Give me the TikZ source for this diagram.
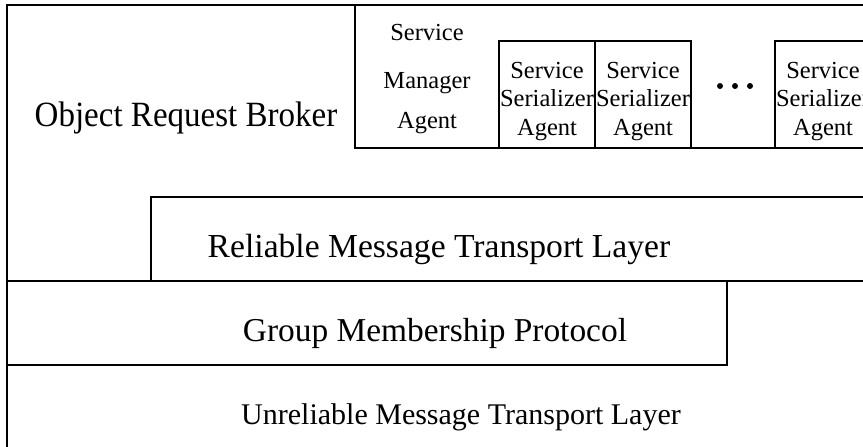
\documentclass[tikz,border=0pt]{standalone}
\usepackage{fontspec}
\setmainfont{Liberation Serif}
\begin{document}
\begin{tikzpicture}[x=1pt,y=-1pt,
  frame/.style={line width=1.6pt,black},
  layertext/.style={anchor=base,inner sep=0pt},
  agenttext/.style={anchor=base,inner sep=0pt,font=\fontsize{24.5}{28}\selectfont},
  dot/.style={circle,fill=black,inner sep=0pt,minimum size=6pt}]
\useasboundingbox (0,0) rectangle (863,447);
\clip (0,0) rectangle (863,447);

% key corners of the layer stack
\coordinate (tl) at (7,5);
\coordinate (tr) at (863,5);
\coordinate (bl) at (7,447);
\coordinate (midl) at (7,281);
\coordinate (midr) at (863,281);

% outer frame: top edge and left edge
\draw[frame] (tr) -- (tl) -- (bl);
% boundary between ORB/reliable layer and group membership layer
\draw[frame] (midl) -- (midr);
% reliable message transport layer box
\draw[frame] (151,281) -- (151,197) -- (863,197);
% group membership protocol box
\draw[frame] (7,365) -- (727,365) -- (727,281);
% service agent area inside the ORB
\draw[frame] (355,5) -- (355,148) -- (863,148);
% serializer agent boxes
\draw[frame] (499,148) -- (499,41) -- (691,41) -- (691,148);
\draw[frame] (595,41) -- (595,148);
\draw[frame] (775,148) -- (775,41) -- (863,41);

% layer labels
\node[layertext,font=\fontsize{35.5}{40}\selectfont] (orb) at (186,126)
  {\scalebox{0.93}[1]{Object Request Broker}};
\node[layertext,font=\fontsize{33.6}{38}\selectfont] (rel) at (439,257)
  {Reliable Message Transport Layer};
\node[layertext,font=\fontsize{33.4}{38}\selectfont] (gmp) at (435,341)
  {Group Membership Protocol};
\node[layertext,font=\fontsize{30}{35}\selectfont] (unrel) at (461,424)
  {Unreliable Message Transport Layer};

% service manager agent
\node[agenttext] (sm1) at (427,41) {Service};
\node[agenttext] (sm2) at (427,88) {Manager};
\node[agenttext] (sm3) at (427,128) {Agent};

% serializer agents
\node[agenttext] (sa1) at (547,78) {Service};
\node[agenttext] (sa2) at (547,106) {Serializer};
\node[agenttext] (sa3) at (547,135) {Agent};
\node[agenttext] (sb1) at (643,78) {Service};
\node[agenttext] (sb2) at (643,106) {Serializer};
\node[agenttext] (sb3) at (643,135) {Agent};
\node[agenttext] (sc1) at (823,78) {Service};
\node[agenttext] (sc2) at (823,106) {Serializer};
\node[agenttext] (sc3) at (823,135) {Agent};

% ellipsis between serializer agents
\node[dot] (d1) at (720,86) {};
\node[dot] (d2) at (735,86) {};
\node[dot] (d3) at (750,86) {};
\end{tikzpicture}
\end{document}
